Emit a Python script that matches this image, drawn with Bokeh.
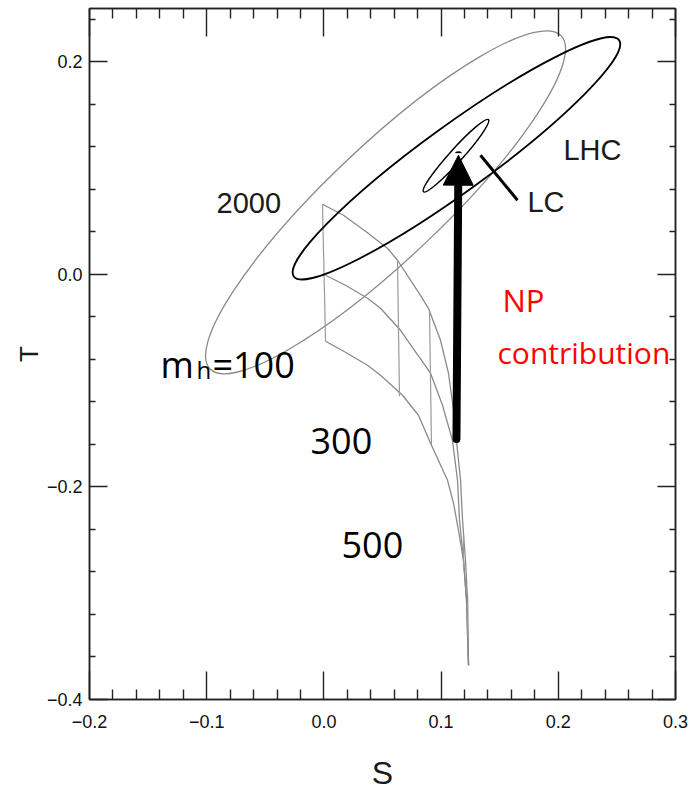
from bokeh.plotting import figure
from bokeh.models import (LinearAxis, FixedTicker, Label, Arrow, NormalHead, Range1d)
from bokeh.embed import file_html
from bokeh.resources import INLINE
import math

# ---------------- axes / ticks ----------------
x_major = [-0.2, -0.1, 0.0, 0.1, 0.2, 0.3]
x_minor = [-0.18, -0.16, -0.14, -0.12, -0.08, -0.06, -0.04, -0.02,
           0.02, 0.04, 0.06, 0.08, 0.12, 0.14, 0.16, 0.18,
           0.22, 0.24, 0.26, 0.28]
x_labels = ["\u22120.2", "\u22120.1", "0.0", "0.1", "0.2", "0.3"]
y_major = [-0.4, -0.2, 0.0, 0.2]
y_minor = [-0.36, -0.32, -0.28, -0.24, -0.16, -0.12, -0.08, -0.04,
           0.04, 0.08, 0.12, 0.16, 0.24]
y_labels = ["\u22120.4", "\u22120.2", "0.0", "0.2"]
x_title = "S"
y_title = "T"

# ---------------- ellipses (S, T centre, width in S, height in T, angle) ----
ell_names = ["2000", "LHC", "LC"]
ell_s = [0.0526, 0.1131, 0.1127]
ell_t = [0.0677, 0.1091, 0.1115]
ell_w = [0.413, 0.343, 0.0828]
ell_h = [0.1072, 0.0621, 0.0122]
ell_angle_deg = [43.45, 36.0, 48.0]
ell_color = ["#8a8a8a", "#000000", "#000000"]
ell_lw = [1.3, 1.8, 1.5]

# ---------------- SM grid curves ----------------
c1_s = [-0.0012, 0.0167, 0.0355, 0.0542, 0.0628, 0.0824, 0.0892, 0.0995,
        0.1063, 0.1106, 0.1131, 0.1166, 0.1183, 0.1208, 0.1226, 0.1234]
c1_t = [0.0659, 0.0555, 0.0405, 0.0245, 0.0132, -0.0198, -0.0320, -0.0621,
        -0.0931, -0.1279, -0.1562, -0.1938, -0.2314, -0.2690, -0.3067, -0.3678]
c2_s = [0.0014, 0.0184, 0.0372, 0.0483, 0.0654, 0.0713, 0.0910, 0.1012,
        0.1097, 0.1140, 0.1157, 0.1191, 0.1217, 0.1234]
c2_t = [-0.0009, -0.0103, -0.0226, -0.0320, -0.0527, -0.0621, -0.0931, -0.1232,
        -0.1562, -0.1938, -0.2314, -0.2690, -0.3067, -0.3678]
c3_s = [0.0014, 0.0184, 0.0372, 0.0483, 0.0671, 0.0807, 0.0910, 0.1055,
        0.1106, 0.1148, 0.1191, 0.1217, 0.1234]
c3_t = [-0.0630, -0.0734, -0.0856, -0.0950, -0.1138, -0.1326, -0.1590, -0.1938,
        -0.2154, -0.2408, -0.2690, -0.3067, -0.3678]
# vertical (constant mh) segments
v_s0 = [-0.0012, 0.0628, 0.0901, 0.1191, 0.1225]
v_s1 = [0.0014, 0.0645, 0.0918, 0.1191, 0.1225]
v_t0 = [0.0659, 0.0132, -0.0339, -0.2455, -0.3095]
v_t1 = [-0.0630, -0.1148, -0.1618, -0.2756, -0.3415]

# ---------------- NP arrow and LC pointer ----------------
arrow_s = [0.1131, 0.1148]
arrow_t = [-0.155, 0.112]
lc_ptr_s = [0.1336, 0.1652]
lc_ptr_t = [0.1119, 0.0696]

# ---------------- figure ----------------
p = figure(width=698, height=794, x_range=Range1d(-0.2, 0.3),
           y_range=Range1d(-0.4, 0.25), output_backend="svg",
           toolbar_location=None, min_border_left=89, min_border_right=23,
           min_border_top=8, min_border_bottom=95,
           background_fill_color="white", border_fill_color="white")
p.grid.visible = False
p.outline_line_color = "#222222"
p.outline_line_width = 1.5

TICK_FONT = "Liberation Sans"
LAB_FONT = "Liberation Sans"

def style(ax, major_in, minor_in, show):
    ax.major_tick_in = major_in
    ax.minor_tick_in = minor_in
    ax.major_tick_out = 0
    ax.minor_tick_out = 0
    ax.axis_line_color = "#222222"
    ax.axis_line_width = 1.5
    ax.major_tick_line_color = "#222222"
    ax.minor_tick_line_color = "#222222"
    ax.major_tick_line_width = 1.4
    ax.minor_tick_line_width = 1.4
    if show:
        ax.major_label_text_font = TICK_FONT
        ax.major_label_text_font_size = "18px"
        ax.major_label_text_color = "#111111"
    else:
        ax.major_label_text_font_size = "1px"
        ax.major_label_text_color = None
        ax.major_label_standoff = 0

bx = p.xaxis[0]
bx.ticker = FixedTicker(ticks=x_major, minor_ticks=x_minor)
bx.major_label_overrides = {v: s for v, s in zip(x_major, x_labels)}
style(bx, 28, 10, True)
bx.major_label_standoff = 15
bx.axis_label = x_title
bx.axis_label_text_font = LAB_FONT
bx.axis_label_text_font_size = "32px"
bx.axis_label_text_font_style = "normal"
bx.axis_label_text_color = "#1a1a1a"
bx.axis_label_standoff = 24

ly = p.yaxis[0]
ly.ticker = FixedTicker(ticks=y_major, minor_ticks=y_minor)
ly.major_label_overrides = {v: s for v, s in zip(y_major, y_labels)}
style(ly, 18, 6, True)
ly.major_label_standoff = 7
ly.axis_label = y_title
ly.axis_label_text_font = LAB_FONT
ly.axis_label_text_font_size = "26px"
ly.axis_label_text_font_style = "normal"
ly.axis_label_text_color = "#1a1a1a"
ly.axis_label_standoff = 0

tx = LinearAxis(ticker=FixedTicker(ticks=x_major, minor_ticks=x_minor))
style(tx, 28, 10, False)
p.add_layout(tx, "above")
ry = LinearAxis(ticker=FixedTicker(ticks=y_major, minor_ticks=y_minor))
style(ry, 18, 6, False)
p.add_layout(ry, "right")

# grid of SM predictions
for cs, ct in [(c1_s, c1_t), (c2_s, c2_t), (c3_s, c3_t)]:
    p.line(cs, ct, line_color="#8a8a8a", line_width=1.3)
p.segment(x0=v_s0, y0=v_t0, x1=v_s1, y1=v_t1, line_color="#9a9a9a", line_width=1.2)

# ellipses
p.ellipse(x=ell_s, y=ell_t, width=ell_w, height=ell_h,
          angle=[math.radians(a) for a in ell_angle_deg],
          fill_color=None, line_color=ell_color, line_width=ell_lw)

# LC pointer
p.line(lc_ptr_s, lc_ptr_t, line_color="black", line_width=3)

# NP arrow
p.add_layout(Arrow(end=NormalHead(size=30, fill_color="black", line_color="black"),
                   x_start=arrow_s[0], y_start=arrow_t[0],
                   x_end=arrow_s[1], y_end=arrow_t[1],
                   line_width=8, line_color="black", line_cap="round"))

# ---------------- text ----------------
narrow_labels = [("2000", -0.0916, 0.0673), ("LHC", 0.2044, 0.1171), ("LC", 0.1737, 0.0682)]
for txt, xs, yv in narrow_labels:
    p.add_layout(Label(x=xs, y=yv, text=txt, text_font=LAB_FONT, text_font_size="29px",
                       text_color="#1a1a1a", text_align="left", text_baseline="alphabetic"))

big_labels = [("m", -0.1394, -0.0846, "36px"), ("h", -0.1087, -0.0893, "24px"),
              ("=100", -0.0951, -0.0846, "36px"), ("300", -0.0114, -0.1571, "36px"),
              ("500", 0.0150, -0.2549, "36px")]
for txt, xs, yv, fs in big_labels:
    p.add_layout(Label(x=xs, y=yv, text=txt, text_font="Open Sans", text_font_size=fs,
                       text_color="black", text_align="left", text_baseline="alphabetic"))

red_labels = [("NP", 0.1524, -0.0240, "31px"), ("contribution", 0.1481, -0.0733, "30px")]
for txt, xs, yv, fs in red_labels:
    p.add_layout(Label(x=xs, y=yv, text=txt, text_font="Open Sans", text_font_size=fs,
                       text_color="#ff0000", text_align="left", text_baseline="alphabetic"))

open("out.html", "w").write(file_html(p, INLINE))
